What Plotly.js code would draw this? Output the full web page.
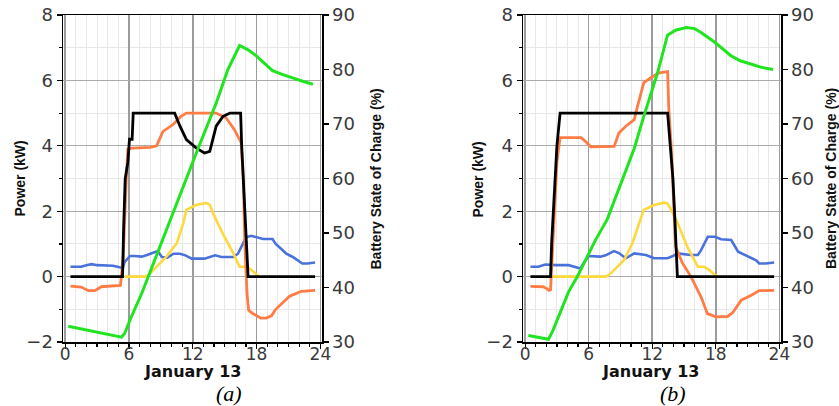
<!DOCTYPE html>
<html>
<head>
<meta charset="utf-8">
<script src="https://cdn.plot.ly/plotly-3.0.1.min.js"></script>
<style>html,body{margin:0;padding:0;background:#fff;}#chart{width:839px;height:406px;}</style>
</head>
<body>
<div id="chart"></div>
<script>
// ---------- Panel (a) ----------
const blackA_h = [0.5, 5.4, 5.5, 5.65, 5.9, 6.05, 6.3, 6.4, 10.3, 10.8, 11.4, 12.34, 13.1, 13.6, 14.2, 14.84, 15.5, 16.5, 16.6, 16.8, 17.0, 17.2, 23.5];
const blackA   = [0, 0, 1.5, 3, 3.5, 4.2, 4.2, 5, 5, 4.6, 4.19, 3.93, 3.78, 3.83, 4.6, 4.9, 5.0, 5.0, 4.0, 2.5, 1.0, 0, 0];

const orangeA_h = [0.5, 1.5, 2.2, 2.8, 3.4, 5.2, 5.45, 5.6, 5.75, 5.9, 6.3, 8.0, 8.6, 9.2, 10.15, 10.9, 11.4, 14.2, 15.15, 15.9, 16.55, 16.75, 16.9, 17.1, 17.25, 17.6, 18.0, 18.4, 18.9, 19.4, 19.8, 20.5, 21.1, 21.7, 22.2, 23.5];
const orangeA   = [-0.29, -0.32, -0.43, -0.43, -0.31, -0.27, 0.5, 2.0, 3.0, 3.9, 3.93, 3.95, 4.0, 4.44, 4.65, 4.9, 5.0, 5.0, 4.85, 4.5, 4.1, 3.0, 1.0, -0.5, -1.03, -1.12, -1.2, -1.27, -1.27, -1.2, -1.0, -0.78, -0.6, -0.52, -0.45, -0.42];

const yellowA_h = [5.6, 7.6, 8.0, 8.6, 9.5, 10.5, 11.1, 11.4, 12.3, 13.25, 13.6, 13.9, 14.8, 15.8, 16.4, 17.1, 17.6, 18.1, 18.3];
const yellowA   = [0, 0, 0.1, 0.3, 0.6, 1.02, 1.63, 2.04, 2.19, 2.25, 2.2, 1.94, 1.33, 0.72, 0.3, 0.3, 0.18, 0.03, 0];

const blueA_h = [0.5, 1.5, 2.0, 2.5, 3.0, 4.5, 5.2, 5.4, 5.6, 6.1, 6.5, 7.2, 7.7, 8.4, 8.7, 9.1, 9.6, 10.2, 10.8, 11.3, 11.9, 13.1, 13.6, 14.1, 14.7, 15.8, 16.25, 16.6, 17.0, 17.5, 18.0, 18.6, 19.5, 19.8, 20.3, 20.8, 21.4, 21.9, 22.3, 22.8, 23.5];
const blueA   = [0.3, 0.3, 0.35, 0.38, 0.35, 0.33, 0.28, 0.25, 0.45, 0.63, 0.63, 0.61, 0.66, 0.76, 0.78, 0.6, 0.58, 0.7, 0.7, 0.65, 0.55, 0.55, 0.6, 0.65, 0.6, 0.6, 0.7, 0.95, 1.2, 1.25, 1.2, 1.15, 1.15, 1.0, 0.85, 0.7, 0.6, 0.5, 0.4, 0.4, 0.43];

const socA_h = [0.3, 2.0, 4.0, 5.3, 5.6, 6.2, 7.2, 8.4, 10.0, 12.5, 14.2, 15.3, 16.4, 17.2, 17.97, 18.8, 19.5, 20.4, 21.4, 22.4, 23.3];
const socA   = [32.9, 32.2, 31.4, 30.9, 31.6, 34.5, 38.9, 45.0, 52.8, 65.5, 73.8, 80.0, 84.4, 83.6, 82.5, 81.0, 79.8, 79.1, 78.4, 77.8, 77.3];

// ---------- Panel (b) ----------
const blackB_h = [0.5, 2.4, 2.5, 2.65, 2.8, 3.0, 3.3, 13.45, 13.7, 13.95, 14.1, 14.25, 14.37, 23.5];
const blackB   = [0, 0, 1, 2, 3, 4, 5, 5, 4, 3, 2, 1, 0, 0];

const orangeB_h = [0.5, 1.7, 2.0, 2.25, 2.4, 2.55, 2.75, 3.0, 3.3, 5.3, 5.8, 6.2, 8.4, 8.85, 9.5, 10.3, 10.6, 11.2, 11.86, 12.65, 13.45, 13.55, 13.8, 14.07, 14.2, 14.85, 15.65, 16.6, 17.2, 18.0, 19.1, 19.6, 20.4, 21.35, 22.1, 23.5];
const orangeB   = [-0.3, -0.31, -0.36, -0.42, -0.4, 0.5, 2.0, 3.5, 4.25, 4.25, 4.1, 3.97, 3.98, 4.39, 4.6, 4.8, 5.2, 5.93, 6.08, 6.23, 6.27, 5.2, 3.9, 1.94, 0.92, 0.41, 0.0, -0.62, -1.13, -1.23, -1.22, -1.1, -0.72, -0.57, -0.43, -0.42];

const yellowB_h = [2.5, 7.6, 8.0, 8.54, 9.33, 10.12, 10.9, 11.2, 12.17, 13.1, 13.4, 13.7, 14.4, 15.3, 16.3, 16.9, 17.4, 17.9, 18.2];
const yellowB   = [0, 0, 0.07, 0.25, 0.5, 1.02, 1.73, 2.04, 2.19, 2.26, 2.24, 2.1, 1.63, 0.92, 0.3, 0.3, 0.2, 0.05, 0];

const blueB_h = [0.5, 1.25, 1.9, 2.85, 4.1, 4.75, 5.22, 5.5, 6.0, 7.1, 7.6, 8.38, 8.85, 9.5, 10.3, 11.4, 12.17, 13.44, 13.9, 14.4, 15.6, 16.3, 16.6, 17.24, 17.9, 18.5, 19.45, 20.1, 20.5, 21.35, 21.8, 22.1, 22.7, 23.5];
const blueB   = [0.3, 0.3, 0.37, 0.35, 0.35, 0.3, 0.25, 0.4, 0.63, 0.61, 0.65, 0.78, 0.72, 0.56, 0.71, 0.66, 0.56, 0.56, 0.62, 0.71, 0.66, 0.66, 0.8, 1.22, 1.22, 1.14, 1.12, 0.76, 0.7, 0.56, 0.5, 0.4, 0.4, 0.43];

const socB_h = [0.3, 1.3, 2.2, 2.6, 3.3, 4.1, 4.93, 6.64, 7.75, 9.0, 10.3, 11.2, 12.5, 13.44, 14.2, 15.2, 16.0, 16.6, 17.9, 19.45, 20.3, 21.3, 22.3, 23.4];
const socB   = [31.2, 30.9, 30.5, 32.0, 35.2, 39.2, 42.0, 48.7, 52.5, 58.8, 65.5, 71.4, 79.4, 86.3, 87.2, 87.7, 87.5, 86.8, 85.0, 82.5, 81.6, 81.0, 80.4, 80.0];

// ---------- Labels ----------
const xTickVals = [0, 6, 12, 18, 24];
const xTitle = "January 13";
const yLeftTitle = "Power (kW)";
const yRightTitle = "Battery State of Charge (%)";
const panelLabels = ["(a)", "(b)"];

const C = {blue: "#4a72dc", yellow: "#ffd83c", orange: "#ff7c44", black: "#000000", green: "#1fe41f"};

function line(x, y, color, xa, ya, w) {
  return {x: x, y: y, type: "scatter", mode: "lines", xaxis: xa, yaxis: ya,
          line: {color: color, width: w || 2.6}, hoverinfo: "skip", showlegend: false};
}

const data = [
  line(blueA_h, blueA, C.blue, "x", "y"),
  line(yellowA_h, yellowA, C.yellow, "x", "y"),
  line(orangeA_h, orangeA, C.orange, "x", "y", 2.8),
  line(blackA_h, blackA, C.black, "x", "y", 2.8),
  line(socA_h, socA, C.green, "x", "y2", 3),
  line(blueB_h, blueB, C.blue, "x2", "y3"),
  line(yellowB_h, yellowB, C.yellow, "x2", "y3"),
  line(orangeB_h, orangeB, C.orange, "x2", "y3", 2.8),
  line(blackB_h, blackB, C.black, "x2", "y3", 2.8),
  line(socB_h, socB, C.green, "x2", "y4", 3)
];

const W = 839, H = 406;
const tickFont = {family: "DejaVu Sans", size: 18, color: "#3a3a3a"};
const xTickFont = {family: "DejaVu Sans", size: 17, color: "#3a3a3a"};
const yDom = [(H - 342) / H, (H - 15) / H];

function xAxis(dom, anchor) {
  return {domain: dom, anchor: anchor, range: [-0.2, 24.15], tickvals: xTickVals,
          showline: true, linecolor: "#000", linewidth: 1.5, mirror: true,
          ticks: "outside", ticklen: 5, tickcolor: "#000", tickwidth: 1.2,
          ticklabelstandoff: -9,
          showgrid: true, gridcolor: "#9c9c9c", gridwidth: 1.6,
          minor: {dtick: 1, showgrid: true, gridcolor: "#e8e8e8", gridwidth: 1, ticks: "outside", ticklen: 3, tickcolor: "#000"},
          tickfont: xTickFont, zeroline: false, fixedrange: true};
}
function yLeft(anchor) {
  return {domain: yDom, anchor: anchor, range: [-2, 8], dtick: 2, tick0: 0,
          showline: true, linecolor: "#000", linewidth: 1.5,
          ticks: "outside", ticklen: 5, tickcolor: "#000", tickwidth: 1.2,
          showgrid: true, gridcolor: "#ababab", gridwidth: 1.2,
          minor: {dtick: 1, showgrid: true, gridcolor: "#e8e8e8", gridwidth: 1, ticks: "outside", ticklen: 3, tickcolor: "#000"},
          tickfont: tickFont, zeroline: false, fixedrange: true};
}
function yRight(anchor, over) {
  return {domain: yDom, anchor: anchor, overlaying: over, side: "right", range: [30, 90], dtick: 10,
          showline: true, linecolor: "#000", linewidth: 1.5,
          ticks: "outside", ticklen: 5, tickcolor: "#000", tickwidth: 1.2,
          showgrid: false, tickfont: tickFont, zeroline: false, fixedrange: true};
}

const titleFont = {family: "Liberation Sans", size: 14, color: "#111", weight: "bold"};
const xTitleFont = {family: "DejaVu Sans", size: 16, color: "#111", weight: "bold"};
const subFont = {family: "Liberation Serif", size: 22, color: "#000", style: "italic"};

function ann(text, px, py, font, angle) {
  return {text: text, x: px / W, y: (H - py) / H, xref: "paper", yref: "paper",
          xanchor: "center", yanchor: "middle", showarrow: false, font: font, textangle: angle || 0};
}

const layout = {
  width: W, height: H,
  margin: {l: 0, r: 0, t: 0, b: 0, pad: 0},
  paper_bgcolor: "#ffffff", plot_bgcolor: "#ffffff",
  showlegend: false,
  xaxis: xAxis([63 / W, 322 / W], "y"),
  yaxis: yLeft("x"),
  yaxis2: yRight("x", "y"),
  xaxis2: xAxis([523 / W, 781 / W], "y3"),
  yaxis3: yLeft("x2"),
  yaxis4: yRight("x2", "y3"),
  annotations: [
    ann(yLeftTitle, 19.5, 179, titleFont, -90),
    ann(yRightTitle, 375.5, 179, titleFont, -90),
    ann(xTitle, 192, 371, xTitleFont),
    ann(panelLabels[0], 229, 393, subFont),
    ann(yLeftTitle, 477.5, 179, titleFont, -90),
    ann(yRightTitle, 831, 179, titleFont, -90),
    ann(xTitle, 650, 371, xTitleFont),
    ann(panelLabels[1], 673, 393, subFont)
  ]
};

Plotly.newPlot("chart", data, layout, {displayModeBar: false, staticPlot: true});
</script>
</body>
</html>
